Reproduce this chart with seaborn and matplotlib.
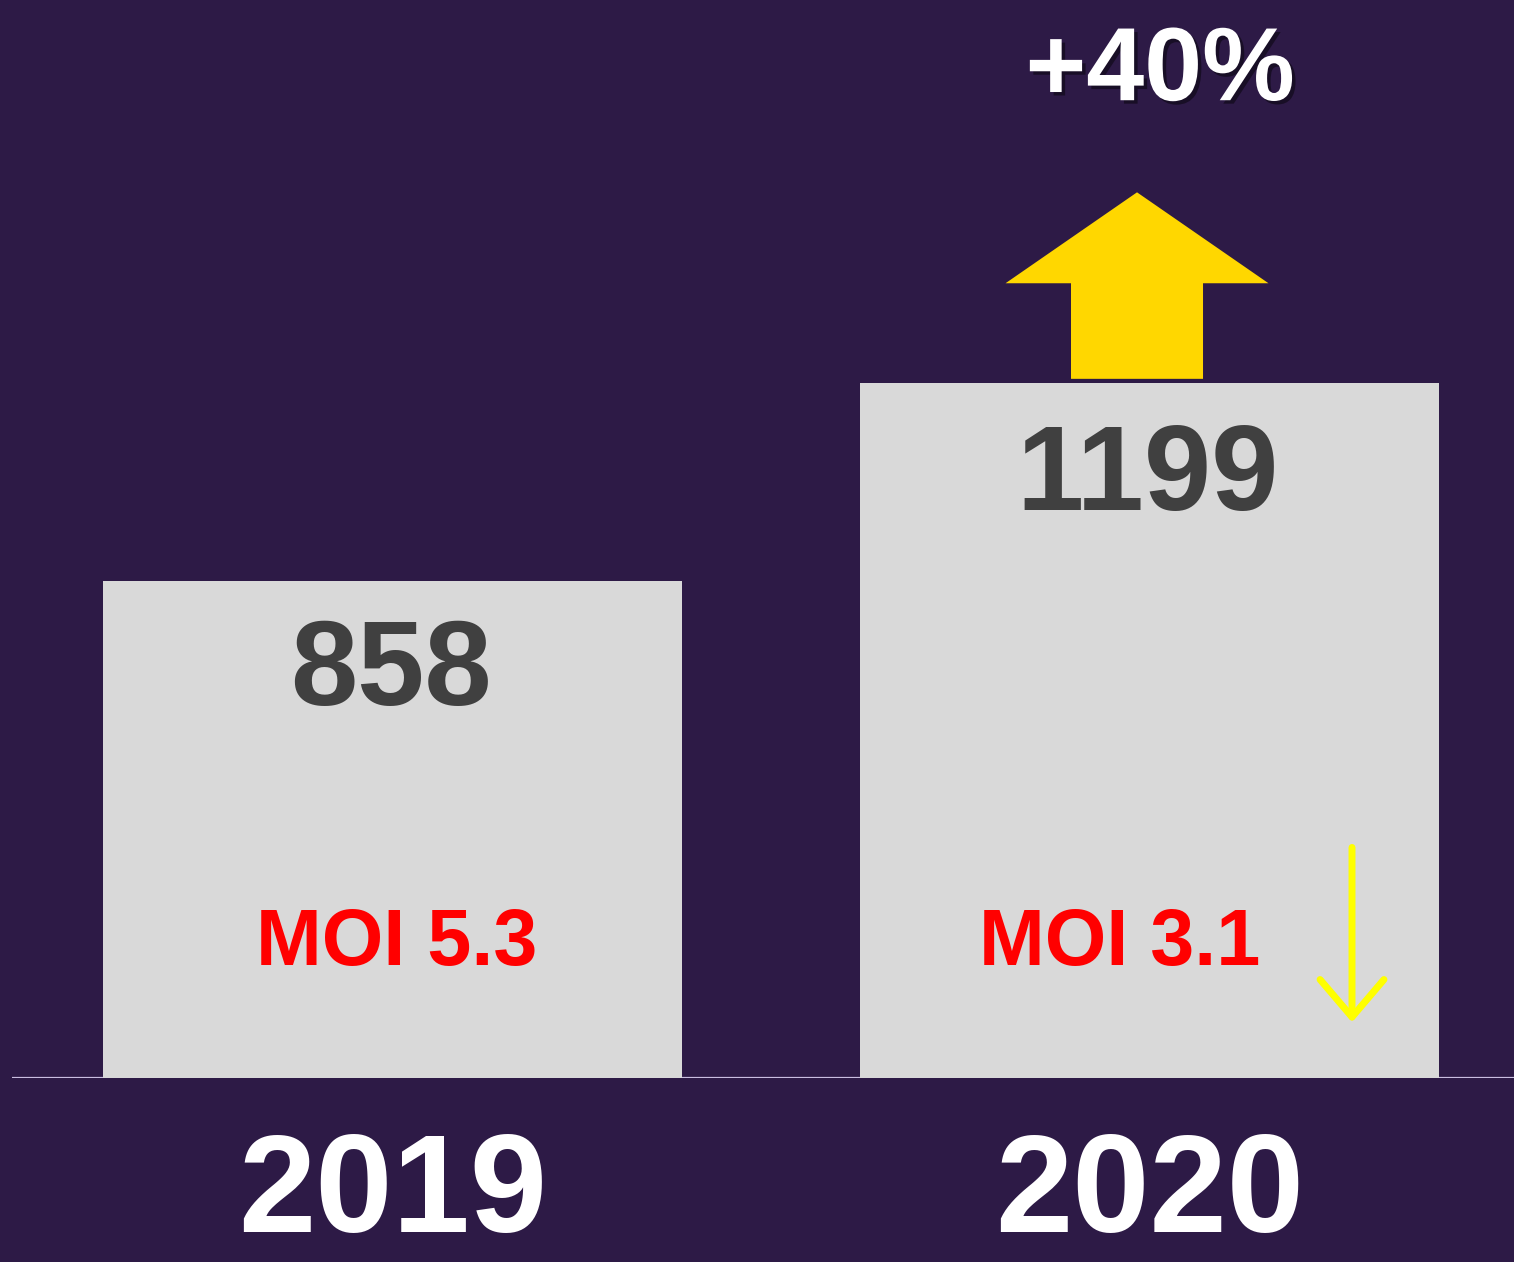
import matplotlib
matplotlib.use("Agg")
import matplotlib.pyplot as plt
import matplotlib.patheffects as pe
from matplotlib.patches import Polygon
import seaborn as sns
import pandas as pd

years = ["2019", "2020"]
counts = [858, 1199]
moi_labels = ["MOI 5.3", "MOI 3.1"]
growth_label = "+40%"

BG = "#2d1a46"
BAR = "#d9d9d9"

sns.set_style("white")
plt.rcParams["font.family"] = ["Liberation Sans", "DejaVu Sans"]
plt.rcParams["font.weight"] = "bold"

fig = plt.figure(figsize=(15.14, 12.62), dpi=100, facecolor=BG)
ax = fig.add_axes([0, (1262 - 1078) / 1262, 1, 1078 / 1262])
ax.set_facecolor(BG)

df = pd.DataFrame({"year": years, "count": counts})
sns.barplot(data=df, x="year", y="count", color=BAR, saturation=1,
            width=0.766, ax=ax, zorder=2, linewidth=0, edgecolor="none")

ax.set_xlim(-0.5185, 1.4815)
ax.set_ylim(0, 1861)
for s in ax.spines.values():
    s.set_visible(False)
ax.set_xlabel("")
ax.set_ylabel("")
ax.set_yticks([])
ax.tick_params(axis="x", length=0, pad=38, labelsize=100, labelcolor="white")
for lab in ax.get_xticklabels():
    lab.set_fontweight("bold")
    lab.set_va("top")

# baseline
ax.plot([-0.502, 1.4815], [0, 0], color="#c9bde0", lw=1.6, zorder=1,
        solid_capstyle="butt")

# value labels
val_y = [644, 980]
val_x = [-0.002, 0.998]
for i, c in enumerate(counts):
    ax.text(val_x[i], val_y[i], str(c), ha="center", va="baseline",
            fontsize=87, fontweight="bold", color="#404040", zorder=3)

moi_x = [0.005, 0.96]
for i, m in enumerate(moi_labels):
    ax.text(moi_x[i], 195, m, ha="center", va="baseline",
            fontsize=57, fontweight="bold", color="#ff0000", zorder=3)

# growth label with shadow
ax.text(1.014, 1688, growth_label, ha="center", va="baseline",
        fontsize=75, fontweight="bold", color="white", zorder=4,
        path_effects=[pe.withSimplePatchShadow(offset=(2.5, -2.5),
                                               shadow_rgbFace="black",
                                               alpha=0.45)])

# yellow block arrow above 2020 bar
cx = 0.9835
hw_head, hw_shaft = 0.1737, 0.0872
y0 = counts[1] + 8
y_base, y_tip = 1372, 1529
pts = [(cx - hw_shaft, y0), (cx + hw_shaft, y0), (cx + hw_shaft, y_base),
       (cx + hw_head, y_base), (cx, y_tip), (cx - hw_head, y_base),
       (cx - hw_shaft, y_base)]
ax.add_patch(Polygon(pts, closed=True, facecolor="#ffd700",
                     edgecolor="none", zorder=3))

# thin yellow down arrow
ax.annotate("", xy=(1.2675, 96), xytext=(1.2675, 398),
            arrowprops=dict(arrowstyle="->,head_length=1.35,head_width=1.15",
                            color="#ffff00", lw=5, mutation_scale=20,
                            shrinkA=0, shrinkB=0, joinstyle="round",
                            capstyle="round"),
            zorder=4)

fig.savefig("out.png", dpi=100, facecolor=BG)
